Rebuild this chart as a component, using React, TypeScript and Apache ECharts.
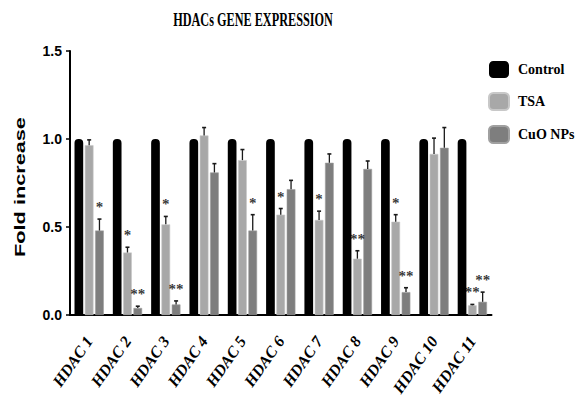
import React, { useEffect, useRef } from "react";
import * as echarts from "echarts";

const categories = [
  "HDAC 1", "HDAC 2", "HDAC 3", "HDAC 4", "HDAC 5", "HDAC 6",
  "HDAC 7", "HDAC 8", "HDAC 9", "HDAC 10", "HDAC 11",
];
const seriesNames = ["Control", "TSA", "CuO NPs"];
const controlValues = [1, 1, 1, 1, 1, 1, 1, 1, 1, 1, 1];
const tsaValues = [0.965, 0.355, 0.515, 1.02, 0.88, 0.57, 0.54, 0.32, 0.53, 0.915, 0.055];
const tsaErrors = [0.03, 0.03, 0.045, 0.045, 0.06, 0.035, 0.05, 0.045, 0.04, 0.09, 0.005];
const cuoValues = [0.48, 0.04, 0.06, 0.81, 0.48, 0.715, 0.865, 0.83, 0.13, 0.95, 0.075];
const cuoErrors = [0.065, 0.01, 0.02, 0.05, 0.09, 0.05, 0.05, 0.045, 0.025, 0.115, 0.055];
const tsaSig = ["", "*", "*", "", "", "*", "*", "**", "*", "", "**"];
const cuoSig = ["*", "**", "**", "", "*", "", "", "", "**", "", "**"];
const yMin = 0;
const yMax = 1.5;
const yInterval = 0.5;

const BAR_W = 8.7;
const GAP = 1.6;

function errorSeries(name: string, values: number[], errors: number[], offsetIndex: number) {
  return {
    type: "custom",
    name: name + " error",
    silent: true,
    z: 5,
    data: values.map((v, i) => [i, v, errors[i]]),
    encode: { x: 0, y: 1 },
    renderItem: (params: any, api: any) => {
      const i = api.value(0);
      const v = api.value(1);
      const e = api.value(2);
      const base = api.coord([i, v]);
      const top = api.coord([i, v + e]);
      const x = base[0] + offsetIndex * (BAR_W + GAP);
      return {
        type: "group",
        children: [
          { type: "line", shape: { x1: x, y1: base[1], x2: x, y2: top[1] }, style: { stroke: "#1a1a1a", lineWidth: 1.3 } },
          { type: "line", shape: { x1: x - 2, y1: top[1], x2: x + 2, y2: top[1] }, style: { stroke: "#1a1a1a", lineWidth: 1.6 } },
        ],
      };
    },
  };
}

function sigSeries(name: string, values: number[], errors: number[], sig: string[], offsetIndex: number) {
  const data: any[] = [];
  values.forEach((v, i) => {
    if (sig[i]) data.push({ value: [i, v + errors[i]], sig: sig[i] });
  });
  return {
    type: "scatter",
    name: name + " sig",
    silent: true,
    z: 6,
    symbolSize: 1,
    itemStyle: { color: "rgba(0,0,0,0)" },
    data,
    label: {
      show: true,
      position: "top",
      distance: 4,
      offset: [offsetIndex * (BAR_W + GAP), 0],
      color: "#000",
      fontFamily: '"Liberation Serif"',
      fontWeight: "bold",
      fontSize: 15,
      formatter: (p: any) => p.data.sig,
    },
  };
}

export default function App() {
  const ref = useRef<HTMLDivElement>(null);
  useEffect(() => {
    if (!ref.current) return;
    const chart = echarts.init(ref.current, null, { renderer: "svg" });
    const option: any = {
      animation: false,
      backgroundColor: "#fff",
      graphic: [
        {
          type: "text",
          x: 253,
          y: 20,
          scaleX: 0.68,
          style: {
            text: "HDACs GENE EXPRESSION",
            fontFamily: '"Liberation Serif"',
            fontWeight: "bold",
            fontSize: 18,
            fill: "#000",
            align: "center",
            verticalAlign: "middle",
          },
        },
        {
          type: "text",
          x: 20,
          y: 187,
          rotation: Math.PI / 2,
          scaleX: 1.55,
          style: {
            text: "Fold increase",
            fontFamily: '"Liberation Sans"',
            fontWeight: "bold",
            fontSize: 14,
            fill: "#000",
            align: "center",
            verticalAlign: "middle",
          },
        },
      ],
      legend: {
        orient: "vertical",
        left: 488,
        top: 61,
        padding: 0,
        itemWidth: 20,
        itemHeight: 17,
        itemGap: 14,
        icon: "roundRect",
        data: seriesNames,
        textStyle: {
          fontFamily: '"Liberation Serif"',
          fontWeight: "bold",
          fontSize: 14,
          color: "#000",
          padding: [0, 0, 0, 4],
        },
      },
      grid: { left: 70, right: 84.5, top: 51, bottom: 87, containLabel: false, outerBoundsMode: "none" },
      xAxis: {
        type: "category",
        data: categories,
        axisLine: { lineStyle: { color: "#000", width: 2 } },
        axisTick: { alignWithLabel: true, length: 5, lineStyle: { color: "#000", width: 1.5 } },
        axisLabel: {
          rotate: 55,
          margin: 23,
          interval: 0,
          color: "#000",
          fontFamily: '"Liberation Serif"',
          fontStyle: "italic",
          fontWeight: "bold",
          fontSize: 16,
        },
      },
      yAxis: {
        type: "value",
        min: yMin,
        max: yMax,
        interval: yInterval,
        splitLine: { show: false },
        axisLine: { show: true, lineStyle: { color: "#000", width: 2 } },
        axisTick: { show: true, length: 4, lineStyle: { color: "#000", width: 1.5 } },
        axisLabel: {
          margin: 8,
          color: "#000",
          fontFamily: '"Liberation Sans"',
          fontWeight: "bold",
          fontSize: 14,
          formatter: (v: number) => v.toFixed(1),
        },
      },
      series: [
        {
          type: "bar",
          name: seriesNames[0],
          data: controlValues,
          barWidth: BAR_W,
          barGap: (GAP / BAR_W) * 100 + "%",
          itemStyle: { color: "#000", borderRadius: [4, 4, 0, 0] },
        },
        {
          type: "bar",
          name: seriesNames[1],
          data: tsaValues,
          barWidth: BAR_W,
          barGap: (GAP / BAR_W) * 100 + "%",
          itemStyle: { color: "#a8a8a8", borderColor: "#c8c8c8", borderWidth: 0.6 },
        },
        {
          type: "bar",
          name: seriesNames[2],
          data: cuoValues,
          barWidth: BAR_W,
          barGap: (GAP / BAR_W) * 100 + "%",
          itemStyle: { color: "#7e7e7e", borderColor: "#a0a0a0", borderWidth: 0.6 },
        },
        errorSeries("TSA", tsaValues, tsaErrors, 0),
        errorSeries("CuO NPs", cuoValues, cuoErrors, 1),
        sigSeries("TSA", tsaValues, tsaErrors, tsaSig, 0),
        sigSeries("CuO NPs", cuoValues, cuoErrors, cuoSig, 1),
      ],
    };
    chart.setOption(option);
    return () => chart.dispose();
  }, []);
  return (
    <div
      ref={ref}
      style={{ position: "fixed", left: 0, top: 0, width: 576, height: 402 }}
    />
  );
}
